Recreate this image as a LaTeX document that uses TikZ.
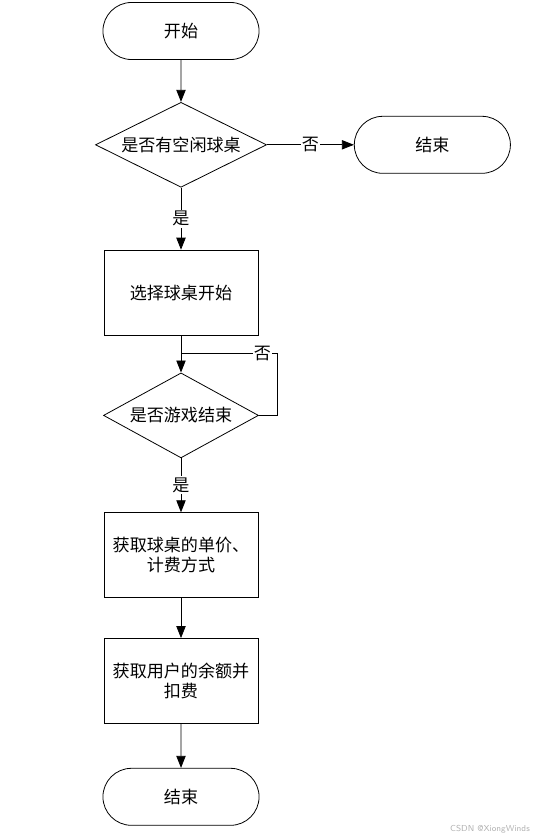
\documentclass[tikz,border=0pt]{standalone}
\usepackage{fontspec}
\newfontfamily\cjk{Noto Sans CJK SC}
\usetikzlibrary{positioning, shapes.geometric, shapes.misc, arrows.meta}
\tikzset{block/.style={draw, line width=0.6pt, minimum width=115.5pt, minimum height=63.75pt, align=center, font=\cjk\fontsize{12.8}{15}\selectfont},
term/.style={draw, line width=0.6pt, rounded rectangle, minimum width=123.75pt, minimum height=42.75pt, font=\cjk\fontsize{12.8}{15}\selectfont},
decide/.style={draw, line width=0.6pt, diamond, aspect=2, inner sep=0pt, minimum height=63.75pt, font=\cjk\fontsize{12.8}{15}\selectfont},
line/.style={line width=0.6pt, -{Triangle[length=9pt,width=7pt]}},
lab/.style={fill=white, inner sep=1pt, font=\cjk\fontsize{12.8}{15}\selectfont}
}
\begin{document}
\begin{tikzpicture}
\useasboundingbox (-135.75pt,23.25pt) rectangle (267pt,-606pt);
\node[term] (start) at (0,0) {开始};
\node[decide, minimum width=128.25pt, below=31.5pt of start] (free) {是否有空闲球桌};
\node[term, right=65.25pt of free] (end1) {结束};
\node[block, below=46.5pt of free] (choose) {选择球桌开始};
 % the loop comes back above the second decision
\node[decide, minimum width=116.25pt, below=27.75pt of choose] (over) {是否游戏结束};
\coordinate[below=13.5pt of choose.south] (join);
\node[block, below=40.5pt of over] (price) {获取球桌的单价、\\计费方式};
\node[block, below=30pt of price] (pay) {获取用户的余额并\\扣费};
\node[term, below=33pt of pay] (end2) {结束};
\node[font=\sffamily\fontsize{6.5}{8}\selectfont, text=black!30] (wm) at (231.75pt,-598.5pt) {CSDN @XiongWinds};
\draw[line] (start)--(free);
\draw[line] (free)--node[lab]{否}(end1);
\draw[line] (free)--node[lab]{是}(choose);
\draw[line] (choose)--(over);
\draw[line width=0.6pt] (over.east)--++(13.5pt,0) |- node[lab, pos=0.575]{否} (join);
\draw[line] (over)--node[lab]{是}(price);
\draw[line] (price)--(pay);
\draw[line] (pay)--(end2);
\end{tikzpicture}
\end{document}
